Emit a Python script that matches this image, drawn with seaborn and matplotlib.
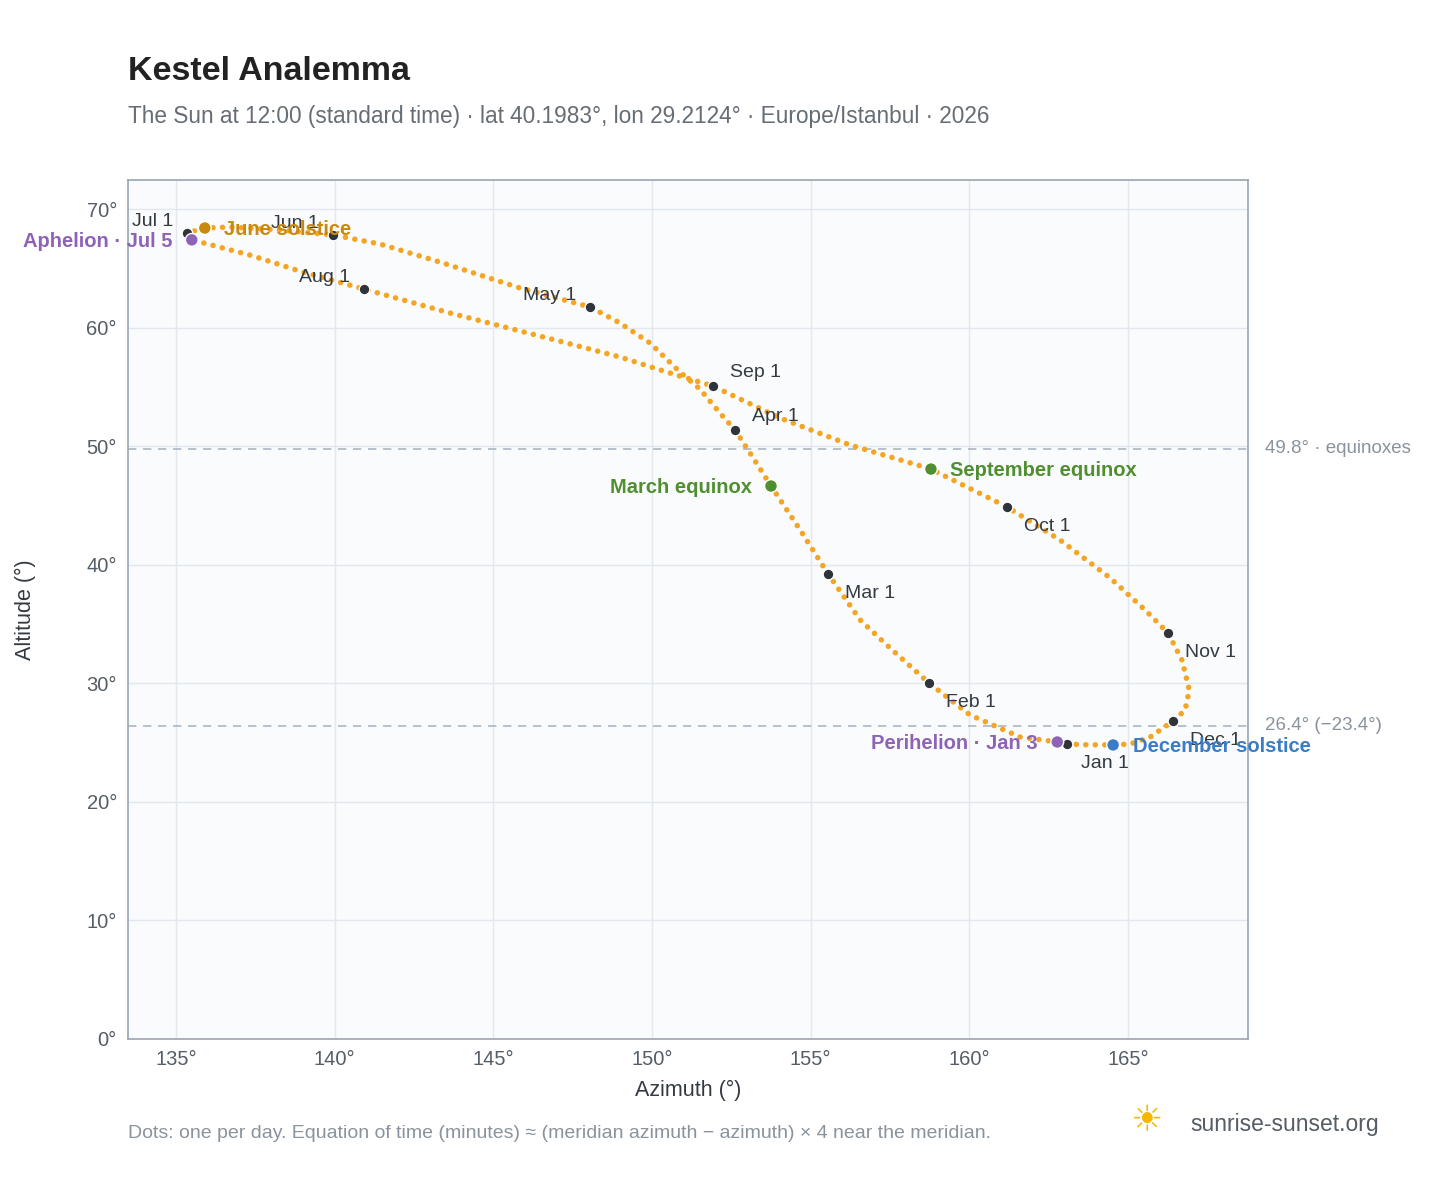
import matplotlib
matplotlib.use("Agg")
import matplotlib.pyplot as plt
import seaborn as sns
import pandas as pd

# path of the sun at noon
path_az = [163.08, 162.77, 161.6, 160.02, 158.73, 157.5, 156.56, 155.55, 154.67, 153.75, 153.15, 152.62,
           152.14, 151.51, 150.88, 149.94, 148.99, 148.05, 145.84, 143.32, 141.43, 139.95, 138.28, 136.7,
           135.91, 135.35, 135.5, 137.33, 138.9, 140.92, 143.64, 147.2, 148.99, 150.47, 151.92, 154.04,
           156.24, 158.79, 161.19, 162.86, 164.44, 165.54, 166.26, 166.7, 166.93, 166.8, 166.42, 165.7,
           165.07, 164.53, 163.6, 163.08]
path_alt = [24.88, 25.05, 25.47, 27.33, 30.02, 32.98, 35.34, 39.22, 42.93, 46.64, 49.17, 51.36,
            52.8, 54.82, 56.25, 58.7, 60.39, 61.74, 63.34, 65.53, 67.05, 67.81, 68.23, 68.48,
            68.4, 67.98, 67.4, 66.12, 64.77, 63.25, 61.23, 58.78, 57.52, 56.25, 55.07, 52.37,
            50.1, 48.07, 44.87, 42.08, 38.88, 36.18, 34.24, 31.96, 29.43, 27.75, 26.82, 25.47,
            24.88, 24.8, 24.82, 24.88]

months = ["Jan 1", "Feb 1", "Mar 1", "Apr 1", "May 1", "Jun 1", "Jul 1", "Aug 1", "Sep 1", "Oct 1", "Nov 1", "Dec 1"]
month_az = [163.08, 158.73, 155.55, 152.62, 148.05, 139.95, 135.35, 140.92, 151.92, 161.19, 166.26, 166.42]
month_alt = [24.88, 30.02, 39.22, 51.36, 61.74, 67.81, 67.98, 63.25, 55.07, 44.87, 34.24, 26.82]
month_offsets = [(10, -14), (12, -14), (12, -14), (12, 10), (-10, 8), (-10, 8), (-10, 8), (-10, 8), (12, 10), (12, -14), (12, -14), (12, -14)]

events = ["June solstice", "Aphelion · Jul 5", "March equinox", "September equinox", "December solstice", "Perihelion · Jan 3"]
event_az = [135.91, 135.5, 153.75, 158.79, 164.53, 162.77]
event_alt = [68.4, 67.4, 46.64, 48.07, 24.8, 25.05]
event_colors = ["#c98a0c", "#8e63b5", "#4f8f2f", "#4f8f2f", "#3a7cc6", "#8e63b5"]
event_side = ["right", "left", "left", "right", "right", "left"]

ref_alt = [49.8, 26.4]
ref_labels = ["49.8° · equinoxes", "26.4° (−23.4°)"]

sns.set_style("white")
plt.rcParams["font.family"] = ["Liberation Sans", "DejaVu Sans"]

fig = plt.figure(figsize=(14.48, 11.88), dpi=100)
ax = fig.add_axes([128 / 1448, 1 - 1039 / 1188, 1120 / 1448, 859 / 1188])
ax.set_facecolor("#f9fbfd")
for s in ax.spines.values():
    s.set_color("#9aa5b1")
    s.set_linewidth(1.2)
ax.grid(True, color="#e3e8ee", linewidth=1)

for y in ref_alt:
    ax.axhline(y, color="#aab7c4", linestyle=(0, (5, 4)), linewidth=1.2)
for y, t in zip(ref_alt, ref_labels):
    ax.annotate(t, xy=(1, y), xycoords=("axes fraction", "data"), xytext=(12, 0),
                textcoords="offset points", va="center", fontsize=13.5, color="#8a939c",
                annotation_clip=False)

path = pd.DataFrame({"az": path_az, "alt": path_alt})
ax.plot(path["az"], path["alt"], color="#f5a524", linewidth=4.0, linestyle=(0, (0.01, 1.7)),
        dash_capstyle="round", solid_joinstyle="round")

mdf = pd.DataFrame({"az": month_az, "alt": month_alt})
sns.scatterplot(data=mdf, x="az", y="alt", ax=ax, color="#2f343b", s=60, edgecolor="white", linewidth=1, zorder=4)
for name, x, y, off in zip(months, month_az, month_alt, month_offsets):
    ax.annotate(name, (x, y), xytext=off, textcoords="offset points", fontsize=14, color="#333a41",
                ha="left" if off[0] > 0 else "right", va="center", zorder=5)

edf = pd.DataFrame({"az": event_az, "alt": event_alt, "name": events})
sns.scatterplot(data=edf, x="az", y="alt", hue="name", palette=dict(zip(events, event_colors)), ax=ax,
                s=85, edgecolor="white", linewidth=1, zorder=6, legend=False)
for name, x, y, c, side in zip(events, event_az, event_alt, event_colors, event_side):
    dx = 14 if side == "right" else -14
    ax.annotate(name, (x, y), xytext=(dx, -1), textcoords="offset points", fontsize=14.5, fontweight="bold",
                color=c, ha="left" if side == "right" else "right", va="center", zorder=7,
                annotation_clip=False)

ax.set_xlim(133.49, 168.78)
ax.set_ylim(0, 72.45)
ax.set_xticks(range(135, 170, 5))
ax.set_xticklabels([f"{v}°" for v in range(135, 170, 5)])
ax.set_yticks(range(0, 80, 10))
ax.set_yticklabels([f"{v}°" for v in range(0, 80, 10)])
ax.tick_params(labelsize=14.5, colors="#555d66", length=0, pad=8)
ax.set_xlabel("Azimuth (°)", fontsize=15.5, color="#333a41", labelpad=8)
ax.set_ylabel("Altitude (°)", fontsize=15.5, color="#333a41", labelpad=36)

fig.text(128 / 1448, 1 - 72 / 1188, "Kestel Analemma", fontsize=24.5, fontweight="bold", color="#222222", va="center")
fig.text(128 / 1448, 1 - 116 / 1188,
         "The Sun at 12:00 (standard time) · lat 40.1983°, lon 29.2124° · Europe/Istanbul · 2026",
         fontsize=16.3, color="#666d75", va="center")
fig.text(128 / 1448, 1 - 1133 / 1188,
         "Dots: one per day. Equation of time (minutes) ≈ (meridian azimuth − azimuth) × 4 near the meridian.",
         fontsize=14, color="#8a939c", va="center")
fig.text(1190 / 1448, 1 - 1125 / 1188, "sunrise-sunset.org", fontsize=16.5, color="#555d66", va="center")
fig.text(1146 / 1448, 1 - 1122 / 1188, "☀", fontsize=26, color="#f5b800", va="center", ha="center")

fig.savefig("out.png", dpi=100)
